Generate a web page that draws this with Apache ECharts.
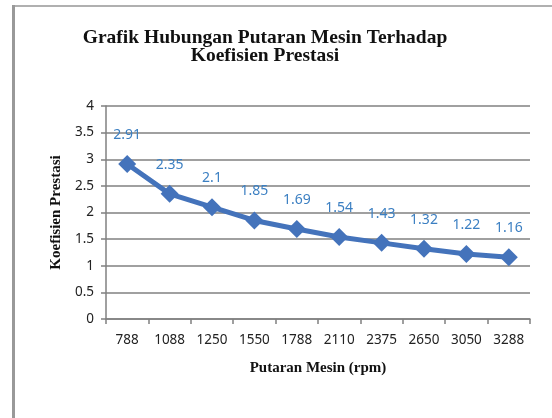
<!DOCTYPE html>
<html><head><meta charset="utf-8">
<script src="https://cdn.jsdelivr.net/npm/echarts@6/dist/echarts.min.js"></script>
<style>html,body{margin:0;padding:0;background:#fff}#c{width:552px;height:418px}</style>
</head><body><div id="c"></div>
<script>
const categories = ['788','1088','1250','1550','1788','2110','2375','2650','3050','3288'];
const values = [2.91, 2.35, 2.1, 1.85, 1.69, 1.54, 1.43, 1.32, 1.22, 1.16];
const labels = ['2.91','2.35','2.1','1.85','1.69','1.54','1.43','1.32','1.22','1.16'];
const chart = echarts.init(document.getElementById('c'));
chart.setOption({
  backgroundColor:'#fff',
  animation:false,
  graphic:[
    {type:'line',shape:{x1:13,y1:6,x2:552,y2:6},style:{stroke:'#b0b0b0',lineWidth:2}},
    {type:'line',shape:{x1:13.5,y1:5,x2:13.5,y2:418},style:{stroke:'#999',lineWidth:3}},
    {type:'text',x:265,y:28,style:{text:'Grafik Hubungan Putaran Mesin Terhadap',
      align:'center',verticalAlign:'top',font:'bold 19.5px "Liberation Serif"',fill:'#111'}},
    {type:'text',x:265,y:46,style:{text:'Koefisien Prestasi',
      align:'center',verticalAlign:'top',font:'bold 19.5px "Liberation Serif"',fill:'#111'}}
  ],
  grid:{left:106,right:22,top:106,bottom:99},
  xAxis:{type:'category',data:categories,boundaryGap:true,
    name:'Putaran Mesin (rpm)',nameLocation:'middle',nameGap:42,
    nameTextStyle:{fontFamily:'Liberation Serif',fontWeight:'bold',fontSize:15,color:'#111'},
    axisLine:{lineStyle:{color:'#808080',width:1.5}},
    axisTick:{show:true,alignWithLabel:false,length:5,lineStyle:{color:'#808080',width:1.5}},
    axisLabel:{fontFamily:'Noto Sans',fontSize:13.5,color:'#222',margin:14}},
  yAxis:{type:'value',min:0,max:4,interval:0.5,
    name:'Koefisien Prestasi',nameLocation:'middle',nameGap:37,nameRotate:90,
    nameTextStyle:{fontFamily:'Liberation Serif',fontWeight:'bold',fontSize:15,color:'#111'},
    axisLine:{show:true,lineStyle:{color:'#808080',width:1.5}},
    axisTick:{show:true,length:5,lineStyle:{color:'#808080',width:1.5}},
    axisLabel:{fontFamily:'Noto Sans',fontSize:13.5,color:'#222',margin:12},
    splitLine:{lineStyle:{color:'#808080',width:1.5}}},
  series:[{type:'line',data:values,symbol:'diamond',symbolSize:18,
    lineStyle:{color:'#4473bb',width:5},itemStyle:{color:'#4473bb'},
    label:{show:true,position:'top',distance:13,fontFamily:'Noto Sans',fontSize:14,color:'#3b7fc2',
      formatter:p=>labels[p.dataIndex]}}]
});
</script></body></html>
